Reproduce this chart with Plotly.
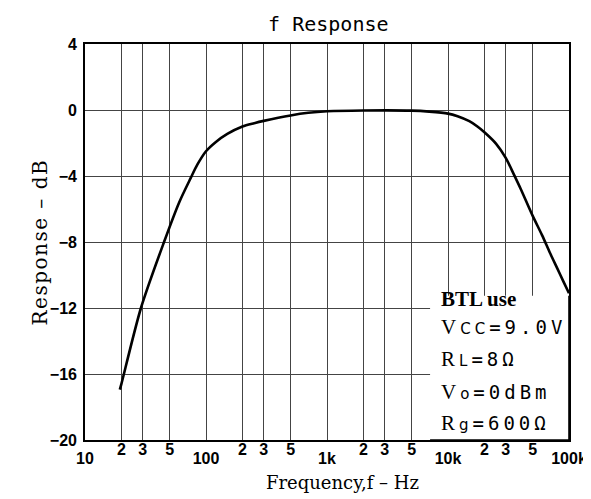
import plotly.graph_objects as go

# Data
freq_hz = [19.4, 20, 29, 45, 60, 75, 85, 100, 120, 150, 200, 250, 300, 500, 700, 1000,
           2000, 5000, 7000, 10000, 12000, 15000, 17500, 20000, 25000, 30000, 35000,
           40000, 50000, 60000, 70000, 80000, 90000, 100000]
response_db = [-16.95, -16.6, -12.0, -8.0, -5.6, -4.1, -3.3, -2.5, -1.95, -1.45, -1.0,
               -0.8, -0.66, -0.33, -0.17, -0.08, -0.03, -0.04, -0.1, -0.22, -0.38, -0.68,
               -1.0, -1.35, -2.05, -2.9, -3.9, -4.8, -6.4, -7.6, -8.7, -9.6, -10.4, -11.1]

major_vals = [10, 100, 1000, 10000, 100000]
major_text = ["10", "100", "1k", "10k", "100k"]
minor_vals = [20, 30, 50, 200, 300, 500, 2000, 3000, 5000, 20000, 30000, 50000]
minor_text = ["2", "3", "5"] * 4
y_ticks = [-20, -16, -12, -8, -4, 0, 4]

SMALL = "<span style='font-family:DejaVu Sans;font-size:15px'>{}</span>"
SERIF = "<span style='font-family:Liberation Serif;font-size:21px'>{}</span>"
note_lines = [
    "<b>BTL use</b>",
    SERIF.format("V") + SMALL.format("CC") + "=9.0V",
    SERIF.format("R") + SMALL.format("L") + "=8Ω",
    SERIF.format("V") + SMALL.format("o") + "=0dBm",
    SERIF.format("R") + SMALL.format("g") + "=600Ω",
]
note_y = [-11.47, -13.16, -15.09, -17.09, -18.96]

fig = go.Figure()
fig.add_trace(go.Scatter(x=freq_hz, y=response_db, mode="lines",
                         line=dict(color="black", width=2.6, shape="spline", smoothing=0.8),
                         showlegend=False, hoverinfo="skip"))
# invisible companion trace so the decade-label axis is drawn
fig.add_trace(go.Scatter(x=major_vals, y=[None] * len(major_vals), xaxis="x2",
                         mode="markers", marker=dict(opacity=0), showlegend=False,
                         hoverinfo="skip"))

grid_c = "#444"
tick_font = dict(family="Liberation Sans", size=16, color="black", weight="bold")

fig.update_layout(
    width=591, height=499,
    margin=dict(l=77, r=27, t=36, b=67),
    paper_bgcolor="white", plot_bgcolor="white",
    title=dict(text="f Response", x=0.542, xanchor="center", y=0.968, yanchor="middle",
               font=dict(family="DejaVu Sans Mono", size=20, color="black")),
    xaxis=dict(type="log", range=[1, 5], tickmode="array",
               tickvals=minor_vals + major_vals,
               ticktext=minor_text + [""] * len(major_vals),
               showgrid=True, gridcolor=grid_c, gridwidth=1,
               showline=True, linecolor="black", linewidth=1.6, mirror=True,
               ticks="", ticklabelstandoff=-6, tickfont=tick_font, zeroline=False),
    xaxis2=dict(type="log", range=[1, 5], overlaying="x", anchor="y", side="bottom",
                tickmode="array", tickvals=major_vals, ticktext=major_text,
                showgrid=False, showline=False, ticks="", ticklabelstandoff=7,
                tickfont=tick_font, zeroline=False),
    yaxis=dict(range=[-20, 4], tickmode="array", tickvals=y_ticks,
               showgrid=True, gridcolor=grid_c, gridwidth=1,
               showline=True, linecolor="black", linewidth=1.6, mirror=True,
               ticks="", ticklabelstandoff=3, tickfont=tick_font, zeroline=False),
)

# axis titles
fig.add_annotation(text="Frequency,f – Hz", xref="paper", yref="paper", x=0.532, y=-0.107,
                   xanchor="center", yanchor="middle", showarrow=False,
                   font=dict(family="DejaVu Serif", size=18, color="black"))
fig.add_annotation(text="<span style='letter-spacing:1.5px'>Response – dB</span>",
                   xref="paper", yref="paper", x=-0.094, y=0.5,
                   xanchor="center", yanchor="middle", showarrow=False, textangle=-90,
                   font=dict(family="DejaVu Serif", size=20, color="black"))

# white box behind the condition notes
fig.add_shape(type="rect", xref="x", yref="y", x0=7110, x1=100000, y0=-20, y1=-11.25,
              fillcolor="white", line=dict(width=0), layer="above")
fig.add_shape(type="line", xref="x", yref="y", x0=100000, x1=100000, y0=-20, y1=-11.25,
              line=dict(color="black", width=1.6), layer="above")
fig.add_shape(type="line", xref="x", yref="y", x0=7110, x1=100000, y0=-20, y1=-20,
              line=dict(color="black", width=1.6), layer="above")

for i, (txt, yy) in enumerate(zip(note_lines, note_y)):
    if i == 0:
        font = dict(family="Liberation Serif", size=21, color="black")
        shown = txt
    else:
        font = dict(family="DejaVu Sans Mono", size=19, color="black")
        shown = "<span style='letter-spacing:4px'>" + txt + "</span>"
    fig.add_annotation(x=3.925, y=yy, xref="x", yref="y", text=shown, showarrow=False,
                       xanchor="left", yanchor="middle", font=font)

fig.write_html("out.html")
